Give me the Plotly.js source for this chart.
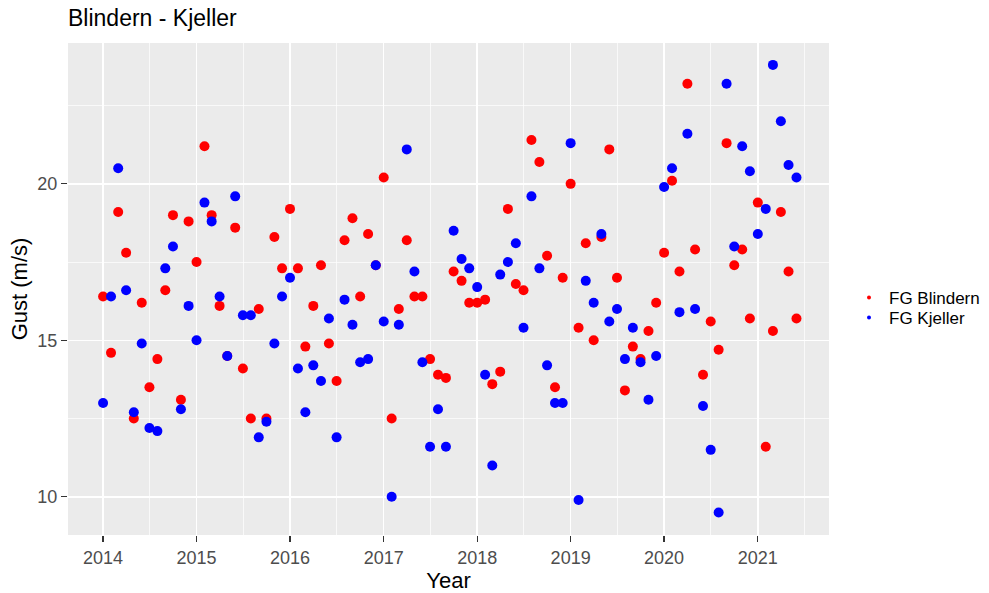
<!DOCTYPE html>
<html>
<head>
<meta charset="utf-8">
<script src="https://cdn.plot.ly/plotly-3.0.1.min.js"></script>
<style>html,body{margin:0;padding:0;background:#fff;}#chart{width:989px;height:593px;}</style>
</head>
<body>
<div id="chart"></div>
<script>
const months = [
 "2014-01-01","2014-02-01","2014-03-01","2014-04-01","2014-05-01","2014-06-01","2014-07-01","2014-08-01","2014-09-01","2014-10-01","2014-11-01","2014-12-01",
 "2015-01-01","2015-02-01","2015-03-01","2015-04-01","2015-05-01","2015-06-01","2015-07-01","2015-08-01","2015-09-01","2015-10-01","2015-11-01","2015-12-01",
 "2016-01-01","2016-02-01","2016-03-01","2016-04-01","2016-05-01","2016-06-01","2016-07-01","2016-08-01","2016-09-01","2016-10-01","2016-11-01","2016-12-01",
 "2017-01-01","2017-02-01","2017-03-01","2017-04-01","2017-05-01","2017-06-01","2017-07-01","2017-08-01","2017-09-01","2017-10-01","2017-11-01","2017-12-01",
 "2018-01-01","2018-02-01","2018-03-01","2018-04-01","2018-05-01","2018-06-01","2018-07-01","2018-08-01","2018-09-01","2018-10-01","2018-11-01","2018-12-01",
 "2019-01-01","2019-02-01","2019-03-01","2019-04-01","2019-05-01","2019-06-01","2019-07-01","2019-08-01","2019-09-01","2019-10-01","2019-11-01","2019-12-01",
 "2020-01-01","2020-02-01","2020-03-01","2020-04-01","2020-05-01","2020-06-01","2020-07-01","2020-08-01","2020-09-01","2020-10-01","2020-11-01","2020-12-01",
 "2021-01-01","2021-02-01","2021-03-01","2021-04-01","2021-05-01","2021-06-01"
];
const fgBlindern = [
 16.4,14.6,19.1,17.8,12.5,16.2,13.5,14.4,16.6,19.0,13.1,18.8,
 17.5,21.2,19.0,16.1,14.5,18.6,14.1,12.5,16.0,12.5,18.3,17.3,
 19.2,17.3,14.8,16.1,17.4,14.9,13.7,18.2,18.9,16.4,18.4,17.4,
 20.2,12.5,16.0,18.2,16.4,16.4,14.4,13.9,13.8,17.2,16.9,16.2,
 16.2,16.3,13.6,14.0,19.2,16.8,16.6,21.4,20.7,17.7,13.5,17.0,
 20.0,15.4,18.1,15.0,18.3,21.1,17.0,13.4,14.8,14.4,15.3,16.2,
 17.8,20.1,17.2,23.2,17.9,13.9,15.6,14.7,21.3,17.4,17.9,15.7,
 19.4,11.6,15.3,19.1,17.2,15.7
];
const fgKjeller = [
 13.0,16.4,20.5,16.6,12.7,14.9,12.2,12.1,17.3,18.0,12.8,16.1,
 15.0,19.4,18.8,16.4,14.5,19.6,15.8,15.8,11.9,12.4,14.9,16.4,
 17.0,14.1,12.7,14.2,13.7,15.7,11.9,16.3,15.5,14.3,14.4,17.4,
 15.6,10.0,15.5,21.1,17.2,14.3,11.6,12.8,11.6,18.5,17.6,17.3,
 16.7,13.9,11.0,17.1,17.5,18.1,15.4,19.6,17.3,14.2,13.0,13.0,
 21.3,9.9,16.9,16.2,18.4,15.6,16.0,14.4,15.4,14.3,13.1,14.5,
 19.9,20.5,15.9,21.6,16.0,12.9,11.5,9.5,23.2,18.0,21.2,20.4,
 18.4,19.2,23.8,22.0,20.6,20.2
];
const seriesNames = ["FG Blindern","FG Kjeller"];
const seriesColors = ["#FF0000","#0000FF"];
const xTickVals = ["2014-01-01","2015-01-01","2016-01-01","2017-01-01","2018-01-01","2019-01-01","2020-01-01","2021-01-01"];
const xTickText = ["2014","2015","2016","2017","2018","2019","2020","2021"];
const yTickVals = [10,15,20];

const FONT = "Liberation Sans, Arial, sans-serif";
const series = [fgBlindern, fgKjeller];
const legendIds = ["legend","legend2"];
const traces = [];
series.forEach((vals,i)=>{
  traces.push({type:"scatter",mode:"markers",x:months,y:vals,name:seriesNames[i],
    showlegend:false,marker:{color:seriesColors[i],size:10,line:{width:0}},hoverinfo:"x+y"});
});
// legend keys (small dots as in the original)
series.forEach((vals,i)=>{
  traces.push({type:"scatter",mode:"markers",x:[null],y:[null],name:seriesNames[i],
    showlegend:true,legend:legendIds[i],marker:{color:seriesColors[i],size:4}});
});

const legendBase = {x:849/989,xref:"container",yref:"container",xanchor:"left",yanchor:"middle",
    font:{family:FONT,size:17,color:"#000"},bgcolor:"rgba(0,0,0,0)",itemwidth:30};

const layout = {
  width:989,height:593,
  paper_bgcolor:"#FFFFFF",plot_bgcolor:"#EBEBEB",
  margin:{l:68,r:160,t:43,b:58,pad:0,autoexpand:false},
  font:{family:FONT,color:"#000"},
  title:{text:"Blindern - Kjeller",font:{family:FONT,size:23,color:"#000"},
    x:68/989,xanchor:"left",xref:"container",y:1-18/593,yanchor:"middle",yref:"container"},
  xaxis:{type:"date",range:["2013-08-17","2021-10-06"],
    tickvals:xTickVals,ticktext:xTickText,
    showgrid:true,gridcolor:"#FFFFFF",gridwidth:1.4,zeroline:false,showline:false,
    ticks:"outside",ticklen:6,tickcolor:"#333333",tickwidth:1.2,
    tickfont:{family:FONT,size:18,color:"#4D4D4D"},
    minor:{tickvals:["2014-07-02","2015-07-02","2016-07-01","2017-07-02","2018-07-02","2019-07-02","2020-07-01","2021-07-02"],showgrid:true,gridcolor:"#FFFFFF",gridwidth:0.7,ticks:""},
    title:{text:"Year",font:{family:FONT,size:22,color:"#000"},standoff:3}},
  yaxis:{range:[8.78,24.5],tickvals:yTickVals,
    showgrid:true,gridcolor:"#FFFFFF",gridwidth:1.4,zeroline:false,showline:false,
    ticks:"outside",ticklen:6,tickcolor:"#333333",tickwidth:1.2,
    tickfont:{family:FONT,size:18,color:"#4D4D4D"},
    minor:{tickvals:[12.5,17.5,22.5],showgrid:true,gridcolor:"#FFFFFF",gridwidth:0.7,ticks:""},
    title:{text:"Gust (m/s)",font:{family:FONT,size:22,color:"#000"},standoff:3}},
  legend:Object.assign({},legendBase,{y:1-298/593}),
  legend2:Object.assign({},legendBase,{y:1-318/593}),
  showlegend:true
};
Plotly.newPlot("chart",traces,layout,{displayModeBar:false,staticPlot:true});
</script>
</body>
</html>
